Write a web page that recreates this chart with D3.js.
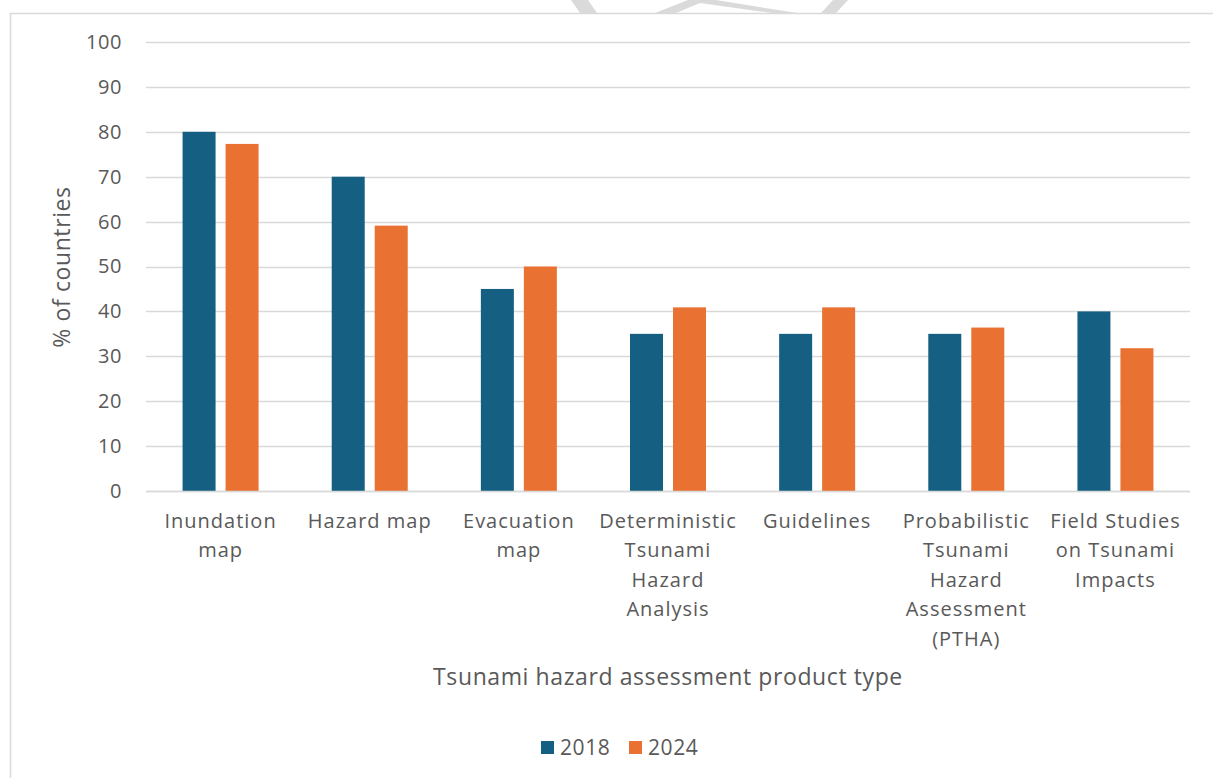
<!DOCTYPE html>
<html>
<head>
<meta charset="utf-8">
<script src="https://cdn.jsdelivr.net/npm/d3@7"></script>
<style>
  html, body { margin: 0; padding: 0; background: #fff; }
  svg { display: block; }
  text { font-family: "Open Sans", "Noto Sans", sans-serif; fill: #595959; }
</style>
</head>
<body>
<svg id="chart" width="1213" height="778"></svg>
<script>
// Tsunami hazard assessment products, share of countries (%)
const categories = [
  "Inundation map", "Hazard map", "Evacuation map",
  "Deterministic Tsunami Hazard Analysis", "Guidelines",
  "Probabilistic Tsunami Hazard Assessment (PTHA)",
  "Field Studies on Tsunami Impacts"
];
const categoryLines = [
  ["Inundation", "map"],
  ["Hazard map"],
  ["Evacuation", "map"],
  ["Deterministic", "Tsunami", "Hazard", "Analysis"],
  ["Guidelines"],
  ["Probabilistic", "Tsunami", "Hazard", "Assessment", "(PTHA)"],
  ["Field Studies", "on Tsunami", "Impacts"]
];
const seriesNames = ["2018", "2024"];
const values2018 = [80, 70, 45, 35, 35, 35, 40];
const values2024 = [77.3, 59.1, 50, 40.9, 40.9, 36.4, 31.8];
const yTicks = [0, 10, 20, 30, 40, 50, 60, 70, 80, 90, 100];
const colors = ["#156082", "#E97132"];

const svg = d3.select("#chart");

// faint background mark peeking above the chart frame
const mark = svg.append("g").attr("fill", "#dadada");
mark.append("path").attr("d", "M571,0 L588,0 L597,13 L580,13 Z");
mark.append("path").attr("d", "M655,13 L688,0 L716,0 L797,13 L772,13 L700,3 L676,13 Z");
mark.append("path").attr("d", "M821,13 L833,0 L848,0 L836,13 Z");

// chart frame
svg.append("rect")
  .attr("x", 10.5).attr("y", 13.5)
  .attr("width", 1240).attr("height", 800)
  .attr("fill", "#fff").attr("stroke", "#d9d9d9").attr("stroke-width", 1.5);

const plot = { left: 146, right: 1190, top: 42, bottom: 491 };

const x = d3.scaleBand()
  .domain(categories)
  .range([plot.left, plot.right])
  .paddingInner(0).paddingOuter(0);

const y = d3.scaleLinear().domain([0, 100]).range([plot.bottom, plot.top]);

// gridlines
svg.append("g")
  .selectAll("line")
  .data(yTicks)
  .join("line")
  .attr("x1", plot.left).attr("x2", plot.right)
  .attr("y1", d => Math.round(y(d)) + 0.5).attr("y2", d => Math.round(y(d)) + 0.5)
  .attr("stroke", "#d9d9d9").attr("stroke-width", 1.5);

// y axis labels
const yAxis = d3.axisLeft(y).tickValues(yTicks).tickSize(0).tickPadding(0);
const yg = svg.append("g").attr("transform", `translate(122,0)`).call(yAxis);
yg.select(".domain").remove();
yg.selectAll("text")
  .attr("font-size", 20)
  .attr("letter-spacing", 0.6)
  .attr("fill", "#595959")
  .style("font-family", '"Open Sans", sans-serif');

// bars: two series side by side within each category band
const barW = 33, barGap = 10;
const groupW = barW * 2 + barGap;
const series = [values2018, values2024];
series.forEach((vals, si) => {
  svg.append("g")
    .selectAll("rect")
    .data(vals)
    .join("rect")
    .attr("x", (d, i) => x(categories[i]) + x.bandwidth() / 2 - groupW / 2 + si * (barW + barGap))
    .attr("y", d => y(d))
    .attr("width", barW)
    .attr("height", d => y(0) - y(d))
    .attr("fill", colors[si]);
});

// baseline
svg.append("line")
  .attr("x1", plot.left).attr("x2", plot.right)
  .attr("y1", plot.bottom + 0.5).attr("y2", plot.bottom + 0.5)
  .attr("stroke", "#d9d9d9").attr("stroke-width", 1.5);

// category labels
const xl = svg.append("g");
categories.forEach((c, i) => {
  const cx = x(c) + x.bandwidth() / 2;
  const t = xl.append("text")
    .attr("text-anchor", "middle")
    .attr("font-size", 20)
    .attr("letter-spacing", 1)
    .attr("x", cx)
    .attr("y", 528);
  categoryLines[i].forEach((ln, k) => {
    t.append("tspan")
      .attr("x", cx)
      .attr("dy", k === 0 ? 0 : 29.4)
      .text(ln);
  });
});

// axis titles
svg.append("text")
  .attr("text-anchor", "middle")
  .attr("font-size", 23)
  .attr("letter-spacing", 0.6)
  .attr("x", 668).attr("y", 685)
  .text("Tsunami hazard assessment product type");

svg.append("text")
  .attr("text-anchor", "middle")
  .attr("font-size", 23)
  .attr("letter-spacing", 0.6)
  .attr("transform", "translate(70,267) rotate(-90)")
  .text("% of countries");

// legend
const legendItems = [{ name: seriesNames[0], x: 541 }, { name: seriesNames[1], x: 629 }];
const lg = svg.append("g");
legendItems.forEach((it, i) => {
  lg.append("rect")
    .attr("x", it.x).attr("y", 741)
    .attr("width", 13).attr("height", 13)
    .attr("fill", colors[i]);
  lg.append("text")
    .attr("x", it.x + 19).attr("y", 755)
    .attr("font-size", 21)
    .attr("letter-spacing", 0.6)
    .text(it.name);
});
</script>
</body>
</html>
